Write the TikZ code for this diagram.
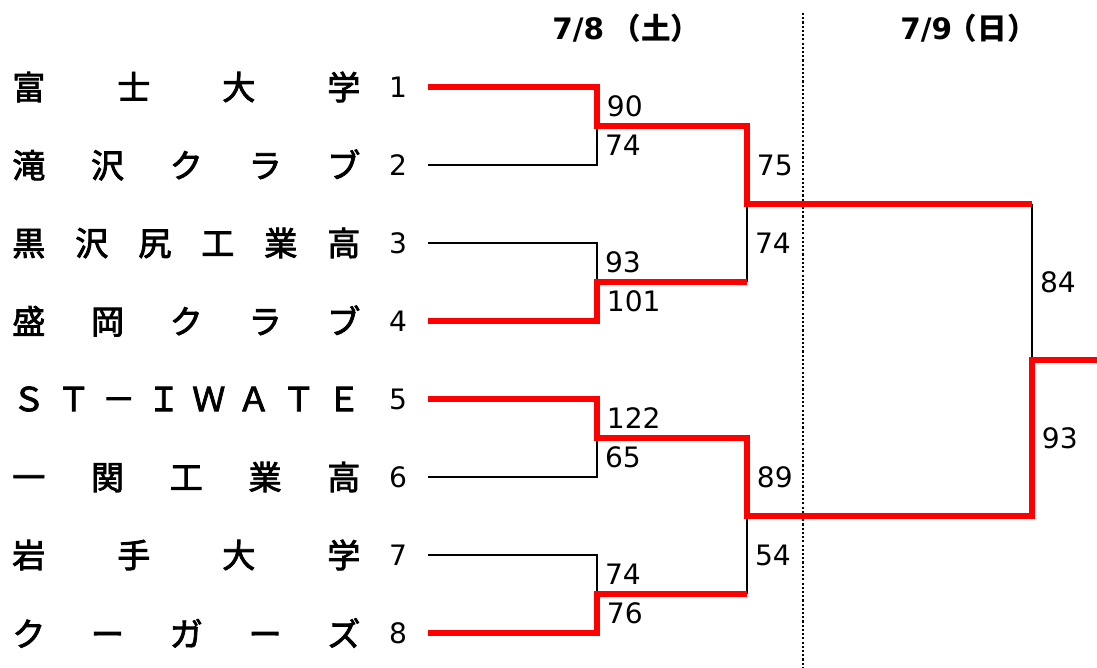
\documentclass[tikz,border=0pt]{standalone}
\usepackage{fontspec}
\setmainfont{Noto Sans CJK JP}
\newfontfamily\namefont[FakeBold=2.5]{Noto Sans CJK JP}
\newfontfamily\numfont{DejaVu Sans}
\newcommand{\spreadname}[1]{\makebox[8.7cm][s]{#1}}
\tikzset{
    team/.style={anchor=west,inner sep=0pt,font=\fontsize{23.5pt}{28pt}\namefont},
    seed/.style={inner sep=0pt,font=\fontsize{20pt}{24pt}\numfont},
    score/.style={anchor=west,text=black,inner xsep=4.8pt,inner ysep=0pt,font=\fontsize{20pt}{24pt}\numfont},
    day/.style={anchor=base west,inner sep=0pt,font=\fontsize{21pt}{25pt}\selectfont\bfseries},
    loser/.style={black,line width=1.9pt},
    winner/.style={red,line width=4.5pt},
    divider/.style={black,line width=1.5pt,dash pattern=on 1.5pt off 1.5pt},
}
\begin{document}
\begin{tikzpicture}[x=0.025cm,y=-0.025cm]
        \useasboundingbox (0,0) rectangle (1097,668);
        %% Days
        \node[day] (day1) at (552,40) {{\numfont 7/8}\hspace{5.5pt}（土）};
        \node[day] (day2) at (900,40) {{\numfont 7/9}\hspace{-3pt}（日）};
        \draw[divider] (803,13) -- (803,668);
        %% Teams and seeds
        \foreach \i/\name in {1/富\hfill 士\hfill 大\hfill 学, 2/滝\hfill 沢\hfill ク\hfill ラ\hfill ブ,
            3/黒\hfill 沢\hfill 尻\hfill 工\hfill 業\hfill 高, 4/盛\hfill 岡\hfill ク\hfill ラ\hfill ブ,
            5/Ｓ\hfill Ｔ\hfill －\hfill Ｉ\hfill Ｗ\hfill Ａ\hfill Ｔ\hfill Ｅ, 6/一\hfill 関\hfill 工\hfill 業\hfill 高,
            7/岩\hfill 手\hfill 大\hfill 学, 8/ク\hfill ー\hfill ガ\hfill ー\hfill ズ} {
            \node[team] (t\i) at (12,9+78*\i) {\spreadname{\name}};
            \node[seed] (n\i) at (398,9+78*\i) {\i};
            \coordinate (s\i) at (428,9+78*\i);
        }
        %% Joins
        \coordinate (r1) at (597,126);
        \coordinate (r2) at (597,282);
        \coordinate (r3) at (597,438);
        \coordinate (r4) at (597,594);
        \coordinate (q1) at (747,204);
        \coordinate (q2) at (747,516);
        \coordinate (f) at (1032,360);
        \coordinate (champ) at (1097,360);
        %% Losing lines
        \draw[loser] (s2) -| (r1) node[score,pos=0.75] {74};
        \draw[loser] (s3) -| (r2) node[score,pos=0.75] {93};
        \draw[loser] (s6) -| (r3) node[score,pos=0.75] {65};
        \draw[loser] (s7) -| (r4) node[score,pos=0.75] {74};
        \draw[loser] (r2 -| q1) -- (q1) node[score,midway] {74};
        \draw[loser] (r4 -| q2) -- (q2) node[score,midway] {54};
        \draw[loser] (q1 -| f) -- (f) node[score,midway] {84};
        %% Winning lines
        \draw[winner] (s1) -| (r1) node[score,pos=0.75] {90} -| (q1) node[score,pos=0.75] {75} -- (q1 -| f);
        \draw[winner] (s4) -| (r2) node[score,pos=0.75] {101} -- (r2 -| q1);
        \draw[winner] (s5) -| (r3) node[score,pos=0.75] {122} -| (q2) node[score,pos=0.75] {89}
            -| (f) node[score,pos=0.75] {93} -- (champ);
        \draw[winner] (s8) -| (r4) node[score,pos=0.75] {76} -- (r4 -| q2);
\end{tikzpicture}
\end{document}
